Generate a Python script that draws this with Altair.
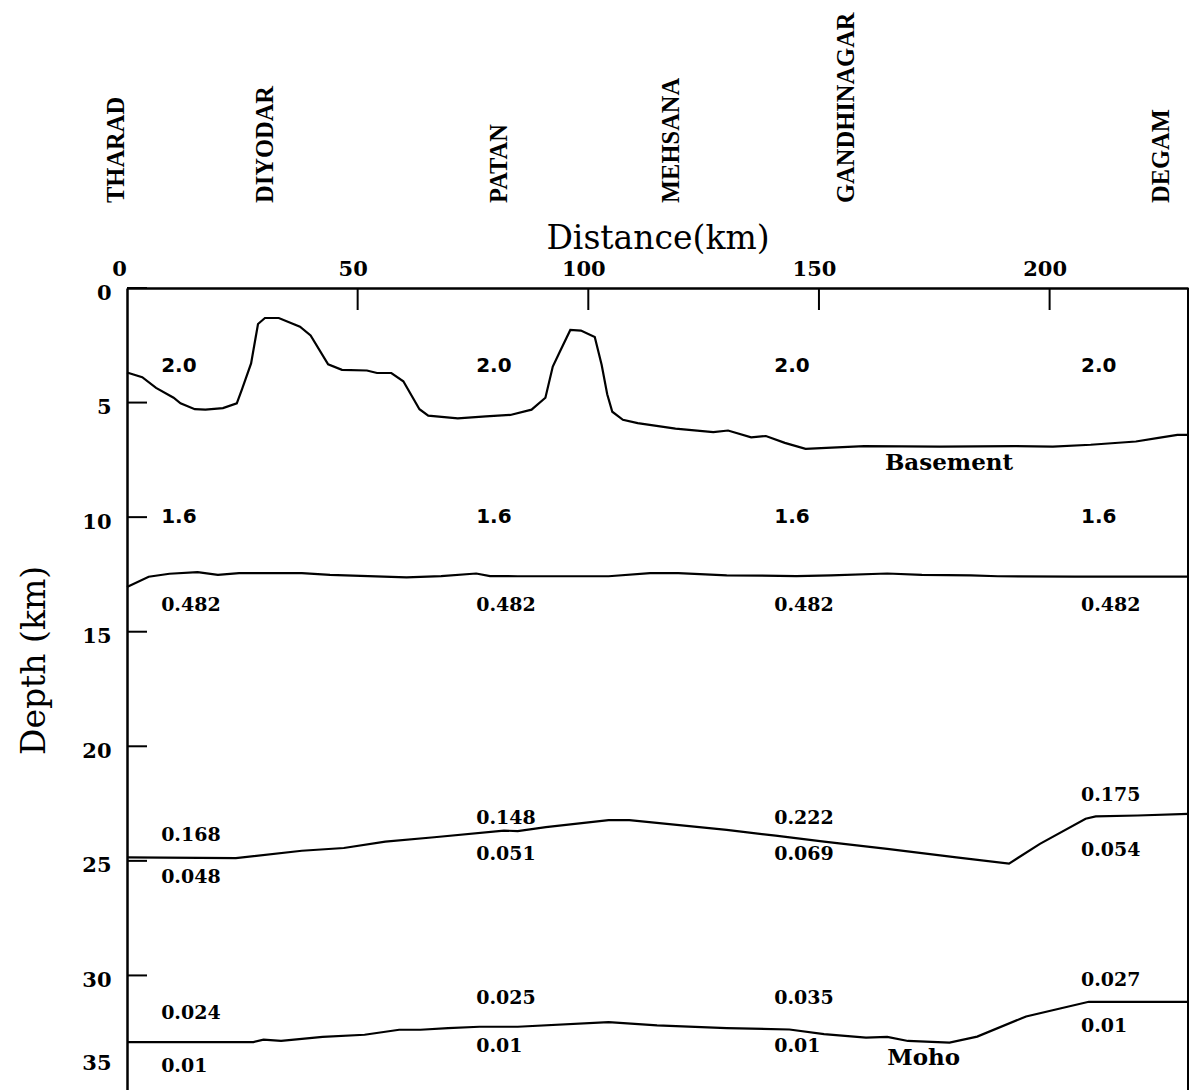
import altair as alt
import pandas as pd

# ---------------- data ----------------
basement_km = [0, 3.3, 6.3, 10.1, 11.6, 14.7, 17.0, 20.8, 23.8, 24.9, 26.9, 28.4, 29.9, 32.9,
               37.5, 39.8, 43.6, 46.6, 52.0, 54.2, 57.3, 59.9, 63.4, 65.3, 71.7, 77.8, 83.1,
               87.7, 90.7, 92.3, 93.8, 96.1, 98.4, 101.4, 102.9, 104.1, 105.2, 107.5, 110.7,
               118.9, 127.1, 130.3, 135.3, 138.5, 142.6, 147.1, 151.6, 159.8, 176.2, 192.5,
               200.7, 208.9, 218.7, 223.6, 227.7, 230]
basement_depth = [3.69, 3.89, 4.36, 4.79, 5.03, 5.29, 5.31, 5.24, 5.03, 4.43, 3.29, 1.57, 1.31,
                  1.31, 1.69, 2.07, 3.33, 3.57, 3.6, 3.71, 3.71, 4.07, 5.29, 5.57, 5.69, 5.6,
                  5.54, 5.31, 4.79, 3.43, 2.79, 1.83, 1.86, 2.14, 3.36, 4.64, 5.4, 5.75, 5.9,
                  6.14, 6.29, 6.22, 6.52, 6.46, 6.76, 7.02, 6.98, 6.90, 6.92, 6.90, 6.92, 6.84,
                  6.70, 6.54, 6.41, 6.41]

mid_km = [0, 4.7, 9.2, 15.3, 19.7, 24.3, 37.9, 44.0, 60.6, 68.1, 75.7, 78.7, 84.7, 104.4,
          113.4, 119.5, 130.0, 145.1, 152.6, 164.8, 172.3, 182.9, 188.8, 205.5, 230]
mid_depth = [13.05, 12.6, 12.47, 12.4, 12.52, 12.44, 12.44, 12.52, 12.63, 12.57, 12.46, 12.57,
             12.58, 12.58, 12.44, 12.44, 12.54, 12.57, 12.54, 12.46, 12.52, 12.54, 12.58, 12.6,
             12.6]

lower_km = [0, 23.6, 37.9, 47.0, 56.0, 66.6, 81.7, 84.7, 90.8, 104.4, 108.9, 130.0, 140.6,
            151.1, 164.8, 179.8, 191.2, 197.9, 207.8, 210.0, 219.1, 230]
lower_depth = [24.85, 24.88, 24.56, 24.44, 24.16, 23.97, 23.68, 23.7, 23.53, 23.22, 23.22,
               23.65, 23.9, 24.16, 24.48, 24.85, 25.12, 24.26, 23.16, 23.06, 23.02, 22.95]

moho_km = [0, 27.4, 29.6, 33.4, 42.4, 51.5, 59.0, 63.6, 69.6, 76.4, 84.7, 104.4, 114.9, 130.0,
           143.6, 151.1, 160.2, 164.8, 169.3, 178.3, 184.3, 194.9, 202.5, 208.5, 219.1, 230]
moho_depth = [32.91, 32.91, 32.8, 32.86, 32.68, 32.59, 32.37, 32.37, 32.3, 32.24, 32.24, 32.04,
              32.18, 32.3, 32.36, 32.56, 32.71, 32.68, 32.86, 32.93, 32.67, 31.79, 31.43, 31.15,
              31.15, 31.15]

towns = ["THARAD", "DIYODAR", "PATAN", "MEHSANA", "GANDHINAGAR", "DEGAM"]
town_km = [-2.2, 30.1, 80.9, 118.1, 156.1, 224.4]

x_ticks = [50, 100, 150, 200]
y_ticks = [0, 5, 10, 15, 20, 25, 30]
x_label_values = [0, 50, 100, 150, 200]
y_label_values = [0, 5, 10, 15, 20, 25, 30, 35]

col_km = [7.4, 75.7, 140.3, 206.8]
num_text = (["2.0"] * 4 + ["1.6"] * 4 + ["0.482"] * 4 +
            ["0.168", "0.148", "0.222", "0.175"] +
            ["0.048", "0.051", "0.069", "0.054"] +
            ["0.024", "0.025", "0.035", "0.027"] +
            ["0.01", "0.01", "0.01", "0.01"])
num_km = col_km * 7
num_depth = ([3.4] * 4 + [10.0] * 4 + [13.84] * 4 +
             [23.85, 23.12, 23.12, 22.14] +
             [25.7, 24.7, 24.7, 24.53] +
             [31.65, 31.0, 31.0, 30.2] +
             [33.95, 33.1, 33.1, 32.2])
num_group = ["sans"] * 8 + ["serif"] * 20

word_text = ["Basement", "Moho"]
word_km = [164.3, 164.8]
word_depth = [7.64, 33.6]

# ---------------- tables ----------------
lines_df = pd.concat([
    pd.DataFrame({"km": basement_km, "depth": basement_depth, "layer": "basement"}),
    pd.DataFrame({"km": mid_km, "depth": mid_depth, "layer": "mid"}),
    pd.DataFrame({"km": lower_km, "depth": lower_depth, "layer": "lower"}),
    pd.DataFrame({"km": moho_km, "depth": moho_depth, "layer": "moho"}),
], ignore_index=True)
towns_df = pd.DataFrame({"name": towns, "km": town_km})
nums_df = pd.DataFrame({"t": num_text, "km": num_km, "depth": num_depth, "g": num_group})
words_df = pd.DataFrame({"t": word_text, "km": word_km, "depth": word_depth})
xt_df = pd.DataFrame({"km": x_ticks})
yt_df = pd.DataFrame({"depth": y_ticks})

W, H = 1061, 802
xs = alt.Scale(domain=[0, 230], nice=False, zero=False)
ys = alt.Scale(domain=[0, 35], nice=False, zero=False, reverse=True)

x_axis = alt.Axis(
    orient="top", values=x_label_values, ticks=False, grid=False,
    domainWidth=2.5, domainColor="black",
    labelFont="DejaVu Serif", labelFontWeight="bold", labelFontSize=21, labelColor="black",
    labelPadding=9, labelFlush=False,
    labelOffset={"condition": {"test": "datum.value == 0", "value": -8}, "value": -5},
    title="Distance(km)", titleFont="DejaVu Serif", titleFontWeight="normal",
    titleFontSize=33, titlePadding=3, titleColor="black",
)
y_axis = alt.Axis(
    orient="left", values=y_label_values, ticks=False, grid=False,
    domainWidth=2.5, domainColor="black",
    labelFont="DejaVu Serif", labelFontWeight="bold", labelFontSize=21, labelColor="black",
    labelPadding=16, labelAlign="right", labelBaseline="middle",
    labelOffset={"condition": {"test": "datum.value == 35", "value": -27}, "value": 5},
    title="Depth (km)", titleFont="DejaVu Serif", titleFontWeight="normal", titleFontSize=33,
    titleAngle=270, titleX=-83, titleY=372, titleAlign="center", titleBaseline="alphabetic",
    titleColor="black",
)


def X(field="km"):
    return alt.X(f"{field}:Q", scale=xs, axis=x_axis, title="Distance(km)")


def Y(field="depth"):
    return alt.Y(f"{field}:Q", scale=ys, axis=y_axis, title="Depth (km)")


lines = alt.Chart(lines_df).mark_line(color="black", strokeWidth=2.2).encode(
    x=X(), y=Y(), detail="layer:N",
)

xtick = alt.Chart(xt_df).mark_rule(color="black", strokeWidth=2).encode(
    x=X(), y=alt.value(0), y2=alt.value(22))
ytick = alt.Chart(yt_df).mark_rule(color="black", strokeWidth=2).encode(
    y=Y(), x=alt.value(0), x2=alt.value(20))

right_border = alt.Chart(pd.DataFrame({"a": [0]})).mark_rule(color="black", strokeWidth=2).encode(
    x=alt.datum(230), y=alt.datum(0), y2=alt.datum(35))

town_text = alt.Chart(towns_df).mark_text(
    angle=270, align="left", baseline="middle", font="Liberation Serif",
    fontWeight="bold", fontSize=24.5, color="black").encode(
    x=X(), y=alt.value(-85), text="name:N")

sans_nums = alt.Chart(nums_df).transform_filter(alt.datum.g == "sans").mark_text(
    align="left", baseline="middle", font="DejaVu Sans", fontWeight="bold", fontSize=20,
    color="black").encode(x=X(), y=Y(), text="t:N")

serif_nums = alt.Chart(nums_df).transform_filter(alt.datum.g == "serif").mark_text(
    align="left", baseline="middle", font="DejaVu Serif", fontWeight="bold", fontSize=19,
    color="black").encode(x=X(), y=Y(), text="t:N")

words = alt.Chart(words_df).mark_text(
    align="left", baseline="middle", font="DejaVu Serif", fontWeight="bold", fontSize=23,
    color="black").encode(x=X(), y=Y(), text="t:N")

chart = alt.layer(lines, xtick, ytick, right_border, town_text, sans_nums, serif_nums, words).properties(
    width=W, height=H,
    padding={"left": 127, "top": 288, "right": 4, "bottom": 0},
    autosize=alt.AutoSizeParams(type="none"),
    background="white",
).configure_view(strokeWidth=0)

chart.save("out.html", embed_options={"renderer": "svg", "actions": False})
